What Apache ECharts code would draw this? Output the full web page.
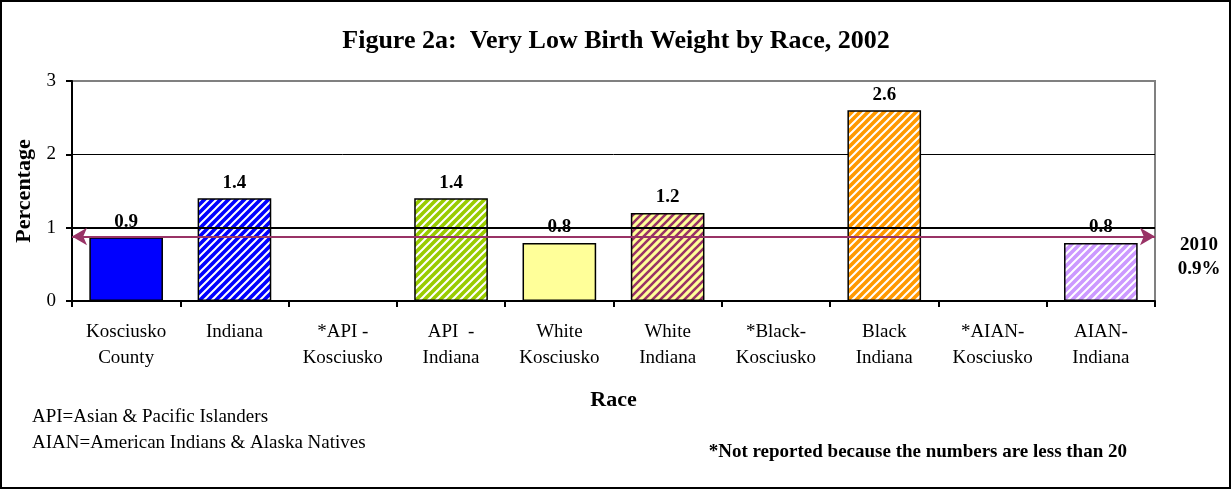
<!DOCTYPE html>
<html>
<head>
<meta charset="utf-8">
<script src="https://cdn.jsdelivr.net/npm/echarts@6/dist/echarts.min.js"></script>
<style>
  html, body { margin: 0; padding: 0; background: #fff; }
  #chart { width: 1232px; height: 490px; }
</style>
</head>
<body>
<div id="chart"></div>
<script>
// data
const categories = [
  'Kosciusko\nCounty', 'Indiana', '*API -\nKosciusko', 'API  -\nIndiana',
  'White\nKosciusko', 'White\nIndiana', '*Black-\nKosciusko', 'Black\nIndiana',
  '*AIAN-\nKosciusko', 'AIAN-\nIndiana'
];
const percentValues = [0.87, 1.4, null, 1.4, 0.79, 1.2, null, 2.6, null, 0.79];
const valueLabels = ['0.9', '1.4', '', '1.4', '0.8', '1.2', '', '2.6', '', '0.8'];
const yTicks = [0, 1, 2, 3];
const target2010 = 0.88;

const font = '"Liberation Serif", "Times New Roman", serif';

// diagonal stripe fill ("/" direction)
function stripes(bg, fg, lineW) {
  const c = document.createElement('canvas');
  const s = 8;
  c.width = s; c.height = s;
  const ctx = c.getContext('2d');
  ctx.fillStyle = bg;
  ctx.fillRect(0, 0, s, s);
  ctx.strokeStyle = fg;
  ctx.lineWidth = lineW;
  ctx.beginPath();
  ctx.moveTo(0, s); ctx.lineTo(s, 0);
  ctx.moveTo(-s / 2, s / 2); ctx.lineTo(s / 2, -s / 2);
  ctx.moveTo(s / 2, s + s / 2); ctx.lineTo(s + s / 2, s / 2);
  ctx.stroke();
  return { image: c, repeat: 'repeat' };
}

const barFills = [
  '#0000FF',
  stripes('#0000FF', '#FFFFFF', 2),
  '#FFFFFF',
  stripes('#99CC00', '#FFFFFF', 2),
  '#FFFF99',
  stripes('#FFFF99', '#993366', 2.6),
  '#FFFFFF',
  stripes('#FF9900', '#FFFFFF', 2),
  '#FFFFFF',
  stripes('#CC99FF', '#FFFFFF', 2)
];

const chart = echarts.init(document.getElementById('chart'));

chart.setOption({
  animation: false,
  textStyle: { fontFamily: font },
  graphic: [
    {
      type: 'rect', shape: { x: 1, y: 1, width: 1229, height: 487 },
      style: { fill: 'none', stroke: '#000', lineWidth: 2 }, silent: true
    },
    {
      type: 'text', left: 'center', top: 28,
      style: { text: 'Figure 2a:  Very Low Birth Weight by Race, 2002', font: 'bold 26px ' + font, fill: '#000' }
    },
    {
      type: 'text', x: 1199, y: 257,
      style: { text: '2010\n0.9%', font: 'bold 19px ' + font, fill: '#000', align: 'center', verticalAlign: 'middle', lineHeight: 24 }
    },
    {
      type: 'text', x: 32, y: 417,
      style: { text: 'API=Asian & Pacific Islanders', font: '19px ' + font, fill: '#000', verticalAlign: 'middle' }
    },
    {
      type: 'text', x: 32, y: 443,
      style: { text: 'AIAN=American Indians & Alaska Natives', font: '19px ' + font, fill: '#000', verticalAlign: 'middle' }
    },
    {
      type: 'text', x: 1127, y: 452,
      style: { text: '*Not reported because the numbers are less than 20', font: 'bold 19px ' + font, fill: '#000', align: 'right', verticalAlign: 'middle' }
    }
  ],
  grid: {
    left: 72, right: 77, top: 81, bottom: 189,
    show: true, borderColor: '#808080', borderWidth: 2, backgroundColor: 'transparent'
  },
  xAxis: {
    type: 'category',
    data: categories,
    name: 'Race',
    nameLocation: 'middle',
    nameGap: 88,
    nameTextStyle: { fontSize: 22, fontWeight: 'bold', color: '#000', fontFamily: font },
    axisLine: { lineStyle: { color: '#000', width: 2 } },
    axisTick: { show: true, length: 6, lineStyle: { color: '#000', width: 2 } },
    axisLabel: { color: '#000', fontSize: 19, lineHeight: 26, margin: 18, interval: 0, fontFamily: font }
  },
  yAxis: {
    type: 'value',
    min: yTicks[0], max: yTicks[yTicks.length - 1], interval: 1,
    name: 'Percentage',
    nameLocation: 'middle',
    nameGap: 30,
    nameTextStyle: { fontSize: 22, fontWeight: 'bold', color: '#000', fontFamily: font },
    axisLine: { show: true, lineStyle: { color: '#000', width: 2 } },
    axisTick: { show: true, length: 6, lineStyle: { color: '#000', width: 2 } },
    axisLabel: { color: '#000', fontSize: 19, margin: 16, fontFamily: font },
    splitLine: { lineStyle: { color: ['#000', '#000', '#000', '#808080'], width: 1 } }
  },
  series: [
    {
      // thicker reference line at 1, behind the bars
      type: 'line',
      z: 1,
      data: categories.map(() => null),
      symbol: 'none',
      silent: true,
      markLine: {
        silent: true,
        symbol: 'none',
        label: { show: false },
        lineStyle: { color: '#000', width: 2, type: 'solid' },
        data: [{ yAxis: 1 }]
      }
    },
    {
      type: 'bar',
      z: 3,
      barCategoryGap: '32%',
      data: percentValues.map((v, i) => ({
        value: v,
        itemStyle: { color: barFills[i] }
      })),
      itemStyle: { borderColor: '#000', borderWidth: 1.5 },
      label: {
        show: true,
        position: 'top',
        distance: 6,
        fontSize: 19,
        fontWeight: 'bold',
        color: '#000',
        fontFamily: font,
        formatter: p => valueLabels[p.dataIndex]
      },
      markLine: {
        silent: true,
        symbol: ['arrow', 'arrow'],
        symbolSize: [13, 15],
        label: { show: false },
        lineStyle: { color: '#993366', width: 2, type: 'solid' },
        data: [{ yAxis: target2010 }]
      }
    }
  ]
});
</script>
</body>
</html>
